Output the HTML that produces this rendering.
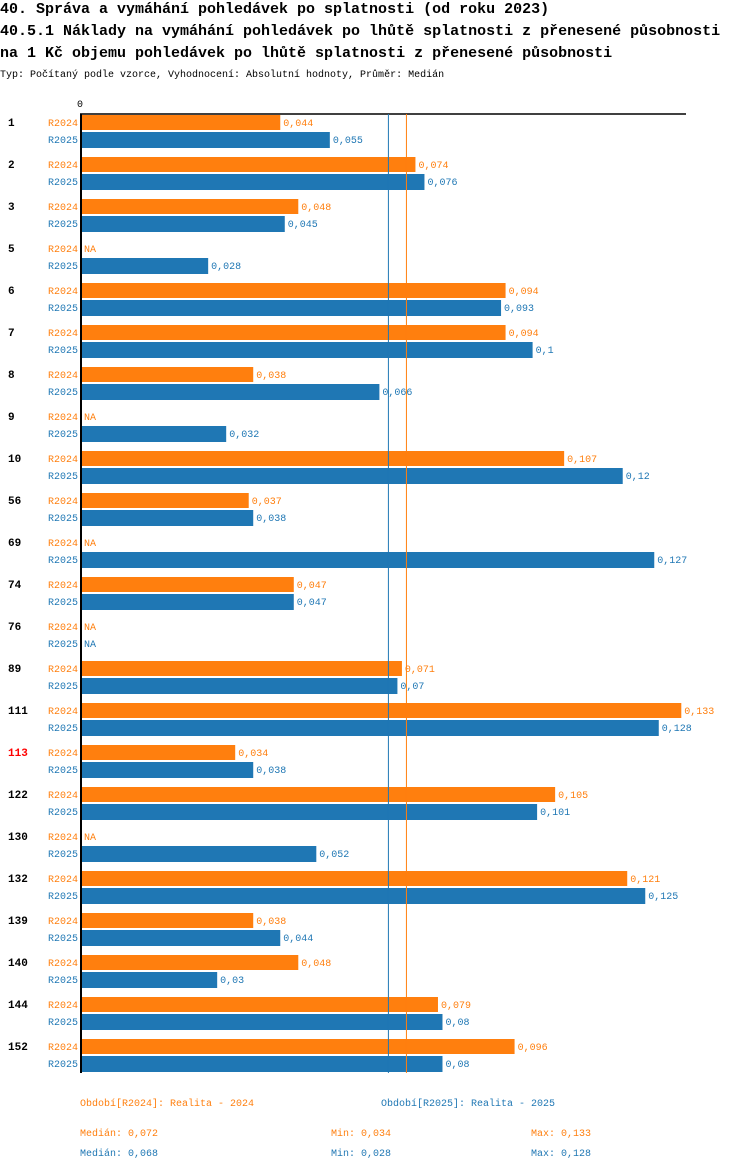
<!DOCTYPE html>
<html><head><meta charset="utf-8"><style>
body{margin:0;background:#fff;width:750px;height:1170px;overflow:hidden}
svg text{font-family:"Liberation Mono","DejaVu Sans Mono",monospace}
</style></head><body>
<svg id="chart" width="750" height="1170" xmlns="http://www.w3.org/2000/svg">
<text x="0" y="13" font-size="15" font-weight="bold">40. Správa a vymáhání pohledávek po splatnosti (od roku 2023)</text>
<text x="0" y="35" font-size="15" font-weight="bold">40.5.1 Náklady na vymáhání pohledávek po lhůtě splatnosti z přenesené působnosti</text>
<text x="0" y="57" font-size="15" font-weight="bold">na 1 Kč objemu pohledávek po lhůtě splatnosti z přenesené působnosti</text>
<text x="0" y="77" font-size="10">Typ: Počítaný podle vzorce, Vyhodnocení: Absolutní hodnoty, Průměr: Medián</text>
<g id="plot"></g>
</svg>
<script>
const categories=["1","2","3","5","6","7","8","9","10","56","69","74","76","89","111","113","122","130","132","139","140","144","152"];
const r2024=[0.044,0.074,0.048,null,0.094,0.094,0.038,null,0.107,0.037,null,0.047,null,0.071,0.133,0.034,0.105,null,0.121,0.038,0.048,0.079,0.096];
const r2025=[0.055,0.076,0.045,0.028,0.093,0.1,0.066,0.032,0.12,0.038,0.127,0.047,null,0.07,0.128,0.038,0.101,0.052,0.125,0.044,0.03,0.08,0.08];
const medians=[0.072,0.068];
const mins=[0.034,0.028];
const maxs=[0.133,0.128];
const highlight="113";
const OR="#ff7f0e",BL="#1f77b4";
const NS="http://www.w3.org/2000/svg";
const g=document.getElementById('plot');
const x=v=>82+v*4506;
const gy=i=>115+i*42;
const fmt=v=>String(v).replace('.',',');
function el(t,a,txt){const e=document.createElementNS(NS,t);for(const k in a)e.setAttribute(k,a[k]);if(txt!=null)e.textContent=txt;g.appendChild(e);return e;}
const bottom=gy(categories.length-1)+42-8;
let e;
e=el('line',{x1:80,y1:114,x2:686,y2:114,stroke:'#000','stroke-width':1.5});


e=el('text',{x:77,y:107,'font-size':10},'0');


categories.forEach((c,i)=>{
  const y=gy(i);
  e=el('text',{x:8,y:y+11,'font-size':11,'font-weight':'bold',fill:c===highlight?'#ff0000':'#000'},c);
  
  
  [[r2024,OR,'R2024',0,15],[r2025,BL,'R2025',17,16]].forEach(([arr,col,lab,dy,h])=>{
    const v=arr[i];
    e=el('text',{x:78,y:y+dy+11,'font-size':10,fill:col,'text-anchor':'end'},lab);
    
    
    if(v==null){
      e=el('text',{x:84,y:y+dy+11,'font-size':10,fill:col},'NA');
      
      
    }else{
      e=el('rect',{x:82,y:y+dy,width:x(v)-82,height:h,fill:col});
      
      
      e=el('text',{x:x(v)+3,y:y+dy+11,'font-size':10,fill:col},String(v).replace('.',','));
      
      
    }
  });
});
e=el('line',{x1:x(medians[0]),y1:114,x2:x(medians[0]),y2:bottom,stroke:OR,'stroke-width':1});


e=el('line',{x1:x(medians[1]),y1:114,x2:x(medians[1]),y2:bottom,stroke:BL,'stroke-width':1});


e=el('line',{x1:81,y1:114,x2:81,y2:bottom,stroke:'#000','stroke-width':2});


e=el('text',{x:80,y:1106,'font-size':10,fill:OR},'Období[R2024]: Realita - 2024');


e=el('text',{x:381,y:1106,'font-size':10,fill:BL},'Období[R2025]: Realita - 2025');


[[OR,1136,0],[BL,1156,1]].forEach(([col,y,k])=>{
  e=el('text',{x:80,y:y,'font-size':10,fill:col},'Medián: '+fmt(medians[k]));
  
  
  e=el('text',{x:331,y:y,'font-size':10,fill:col},'Min: '+fmt(mins[k]));
  
  
  e=el('text',{x:531,y:y,'font-size':10,fill:col},'Max: '+fmt(maxs[k]));
  
  
});
</script>
</body></html>
